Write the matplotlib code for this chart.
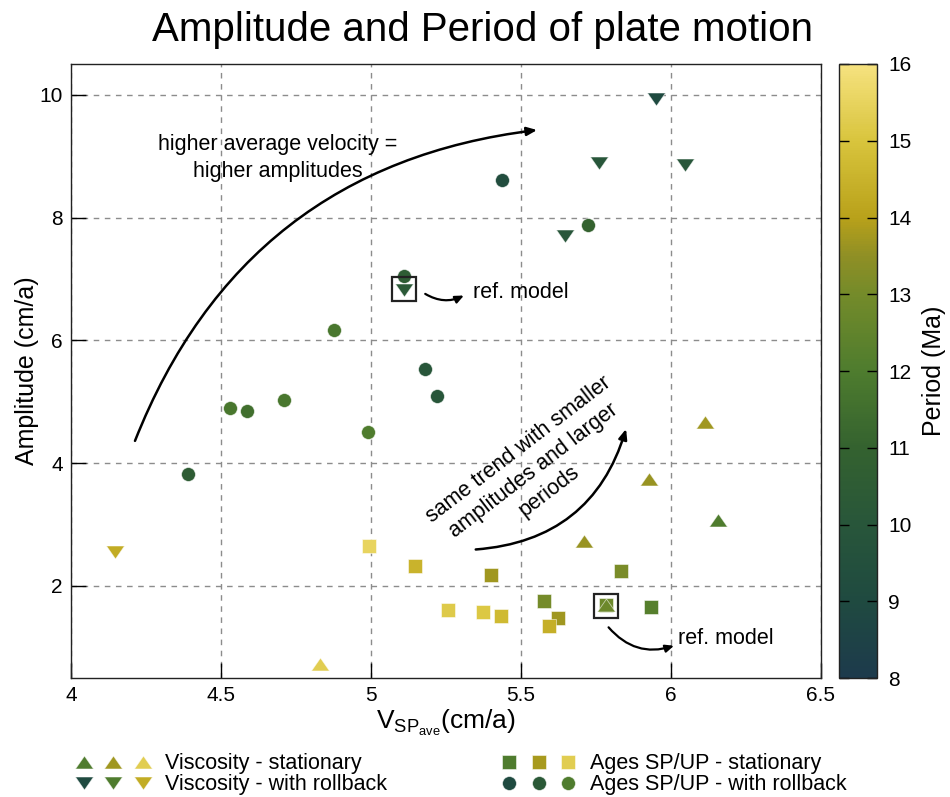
import numpy as np
import matplotlib
matplotlib.use('Agg')
import matplotlib.pyplot as plt
from matplotlib.colors import LinearSegmentedColormap, Normalize
from matplotlib.lines import Line2D
from matplotlib.legend_handler import HandlerTuple
from matplotlib.path import Path

plt.rcParams['font.family'] = ['Liberation Sans', 'DejaVu Sans']
plt.rcParams['mathtext.default'] = 'regular'

# data: velocity (cm/a), amplitude (cm/a), period (Ma)
visc_stat_v = [6.113, 5.927, 6.157, 5.711, 5.783, 4.829]
visc_stat_a = [4.67, 3.74, 3.07, 2.73, 1.69, 0.73]
visc_stat_p = [13.7, 13.6, 12.0, 13.6, 12.8, 15.3]

visc_roll_v = [5.950, 5.759, 6.048, 5.647, 5.111, 4.146]
visc_roll_a = [9.93, 8.89, 8.85, 7.70, 6.82, 2.56]
visc_roll_p = [9.0, 10.0, 10.0, 10.0, 10.3, 14.3]

ages_stat_v = [4.995, 5.146, 5.401, 5.834, 5.258, 5.374, 5.433, 5.578, 5.622, 5.594, 5.783, 5.933]
ages_stat_a = [2.65, 2.33, 2.17, 2.25, 1.60, 1.57, 1.51, 1.76, 1.48, 1.34, 1.69, 1.65]
ages_stat_p = [15.5, 14.5, 13.7, 13.1, 15.2, 15.1, 14.7, 13.0, 13.7, 14.4, 12.8, 12.2]

ages_roll_v = [5.436, 5.725, 5.111, 4.877, 5.181, 5.219, 4.530, 4.587, 4.710, 4.990, 4.390]
ages_roll_a = [8.61, 7.88, 7.04, 6.16, 5.54, 5.10, 4.905, 4.846, 5.024, 4.504, 3.83]
ages_roll_p = [9.3, 11.0, 10.5, 11.8, 10.0, 10.0, 11.8, 11.5, 11.8, 12.0, 10.5]

# reference model points (boxed)
ref_v = [5.111, 5.783]
ref_a = [6.83, 1.67]

# periods of the three sample markers in each legend entry
leg_visc_stat = [12.0, 13.7, 15.3]
leg_visc_roll = [9.0, 12.0, 14.3]
leg_ages_stat = [12.0, 13.8, 15.3]
leg_ages_roll = [9.0, 10.3, 12.0]

# colormap picked from the colorbar
cm_pos = [8, 9, 10, 11, 12, 13, 13.5, 14, 15, 16]
cm_col = ['#1d3a4c', '#1f4a40', '#28563a', '#34622f', '#4e7c2e',
          '#748b2a', '#8f8f25', '#b8a11a', '#d8c43c', '#f6e27f']
cmap = LinearSegmentedColormap.from_list(
    'period', [((p - 8) / 8, c) for p, c in zip(cm_pos, cm_col)])
norm = Normalize(8, 16)

tri_up = Path([(0, 0.72), (-1, -0.72), (1, -0.72), (0, 0.72)])
tri_dn = Path([(0, -0.72), (-1, 0.72), (1, 0.72), (0, -0.72)])

fig = plt.figure(figsize=(9.5, 7.97), dpi=100)
ax = fig.add_axes([0.0747, 0.1493, 0.7895, 0.7704])
cax = fig.add_axes([0.883, 0.1493, 0.040, 0.7704])

def pts(v, a, p, marker, ms):
    for x, y, c in zip(v, a, p):
        col = cmap(norm(c))
        ax.plot(x, y, marker=marker, ms=ms, color=col, mfc=col,
                mec=(1, 1, 1, 0.6), mew=0.6, ls='none', zorder=3)

pts(ages_roll_v, ages_roll_a, ages_roll_p, 'o', 10)
pts(ages_stat_v, ages_stat_a, ages_stat_p, 's', 10)
pts(visc_roll_v, visc_roll_a, visc_roll_p, tri_dn, 13)
pts(visc_stat_v, visc_stat_a, visc_stat_p, tri_up, 13)

ax.plot(ref_v, ref_a, 's', ms=17, mfc='none', mec='#222222', mew=1.6, zorder=4)

ax.set_xlim(4, 6.5)
ax.set_ylim(0.5, 10.5)
ax.set_xticks([4, 4.5, 5, 5.5, 6, 6.5])
ax.set_xticklabels(['4', '4.5', '5', '5.5', '6', '6.5'])
ax.set_yticks([2, 4, 6, 8, 10])
ax.tick_params(direction='in', length=11, width=1, labelsize=15,
               top=False, right=False, pad=6)
ax.grid(True, color='#8c8c8c', ls=(0, (4, 4)), lw=1)
for s in ax.spines.values():
    s.set_linewidth(1)
    s.set_color('#222222')

ax.set_xlabel(r'V$_{SP_{ave}}$(cm/a)', fontsize=19, labelpad=2)
ax.set_ylabel('Amplitude (cm/a)', fontsize=18)
ax.yaxis.set_label_coords(-0.043, 0.5)
fig.text(0.508, 0.962, 'Amplitude and Period of plate motion',
         ha='center', va='center', fontsize=29)

# annotations
ax.annotate('', xy=(5.563, 9.43), xytext=(4.21, 4.32),
            arrowprops=dict(arrowstyle='-|>,head_length=0.6,head_width=0.25',
                            color='black', lw=1.8,
                            connectionstyle='arc3,rad=-0.3'))
ax.text(4.69, 8.97, 'higher average velocity =\nhigher amplitudes',
        ha='center', va='center', fontsize=15.5, linespacing=1.4)

ax.annotate('', xy=(5.853, 4.60), xytext=(5.34, 2.59),
            arrowprops=dict(arrowstyle='-|>,head_length=0.6,head_width=0.25',
                            color='black', lw=1.8,
                            connectionstyle='arc3,rad=0.35'))
ax.text(5.543, 3.88, 'same trend with smaller\namplitudes and larger\nperiods',
        ha='center', va='center', fontsize=15.5, rotation=37.5,
        rotation_mode='anchor', linespacing=1.3)

ax.annotate('', xy=(5.318, 6.75), xytext=(5.173, 6.78),
            arrowprops=dict(arrowstyle='-|>,head_length=0.5,head_width=0.22',
                            color='black', lw=1.6,
                            connectionstyle='arc3,rad=0.3'))
ax.text(5.34, 6.78, 'ref. model', ha='left', va='center', fontsize=15.5)

ax.annotate('', xy=(6.019, 1.04), xytext=(5.786, 1.36),
            arrowprops=dict(arrowstyle='-|>,head_length=0.5,head_width=0.22',
                            color='black', lw=1.6,
                            connectionstyle='arc3,rad=0.35'))
ax.text(6.023, 1.15, 'ref. model', ha='left', va='center', fontsize=15.5)

# colorbar
sm = plt.cm.ScalarMappable(norm=norm, cmap=cmap)
cb = fig.colorbar(sm, cax=cax, ticks=np.arange(8, 17))
cb.outline.set_linewidth(1)
cb.outline.set_edgecolor('#222222')
cax.tick_params(direction='in', length=7, width=1, labelsize=15, pad=8,
                left=True, right=True, labelleft=False, labelright=True)
cb.set_label('Period (Ma)', fontsize=18, labelpad=8)

# legend
def sample(marker, ms, periods):
    return tuple(Line2D([], [], marker=marker, ms=ms, ls='none',
                        color=cmap(norm(p)), mec=(1, 1, 1, 0.6), mew=0.6)
                 for p in periods)

handles = [sample(tri_up, 13, leg_visc_stat), sample(tri_dn, 13, leg_visc_roll),
           sample('s', 10, leg_ages_stat), sample('o', 10, leg_ages_roll)]
labels = ['Viscosity - stationary', 'Viscosity - with rollback',
          'Ages SP/UP - stationary', 'Ages SP/UP - with rollback']
fig.legend(handles, labels, ncol=2, loc='upper left',
           bbox_to_anchor=(0.0727, 0.055), frameon=False, fontsize=15.5,
           handler_map={tuple: HandlerTuple(ndivide=None, pad=0)},
           handlelength=4.1, handletextpad=0.35, columnspacing=5.0,
           labelspacing=0.0, borderaxespad=0, borderpad=0)

fig.savefig('out.png', dpi=100)
